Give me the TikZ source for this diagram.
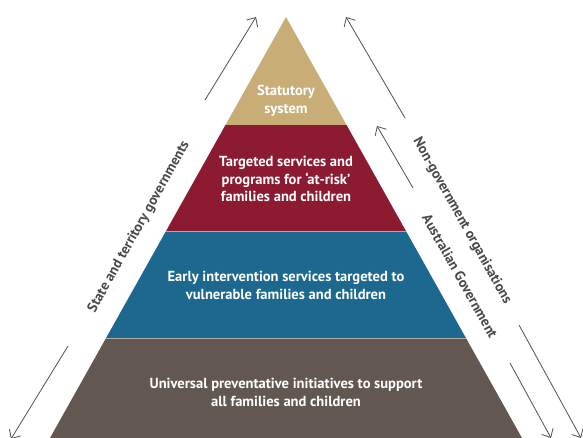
\documentclass[tikz,border=0pt]{standalone}
\usepackage{fontspec}
\setmainfont{PT Sans}
\usetikzlibrary{arrows.meta}

\definecolor{tierTan}{RGB}{200,174,118}
\definecolor{tierRed}{RGB}{140,27,50}
\definecolor{tierBlue}{RGB}{28,104,142}
\definecolor{tierBrown}{RGB}{99,87,81}
\definecolor{labelGray}{RGB}{72,72,72}
\definecolor{arrowGray}{RGB}{80,80,80}

\begin{document}
\begin{tikzpicture}[x=1bp,y=-1bp]

% --- Global TikZ Styles ---
\tikzset{
    layertext/.style={
        text=white,
        align=center,
        font=\bfseries\fontsize{14.6}{17.6}\selectfont
    },
    sidelabel/.style={
        text=labelGray,
        inner sep=0pt,
        font=\bfseries\fontsize{14.2}{16}\selectfont
    },
    flowarrow/.style={
        draw=arrowGray,
        line width=0.8bp,
        -{Straight Barb[length=7bp,width=13bp]}
    },
    separator/.style={
        draw=white,
        opacity=0.5,
        line width=0.6bp
    }
}

\useasboundingbox (0,0) rectangle (583,438);

% ==================================================
% --- Pyramid tiers ---
% ==================================================

\begin{scope}
    \clip (286,17) -- (522,438) -- (50,438) -- cycle;

    % Tier fills
    \fill[tierTan]   (0,0)   rectangle (583,125);
    \fill[tierRed]   (0,125) rectangle (583,231);
    \fill[tierBlue]  (0,231) rectangle (583,338);
    \fill[tierBrown] (0,338) rectangle (583,438);

    % Thin tier borders
    \draw[separator] (0,231) -- (583,231);
    \draw[separator] (0,338) -- (583,338);
\end{scope}

% Tier texts
\node[layertext] (statutory) at (286,101)
    {Statutory\\system};
\node[layertext] (targeted) at (286,179)
    {Targeted services and\\programs for ‘at-risk’\\families and children};
\node[layertext] (early) at (286,285.5)
    {Early intervention services targeted to\\vulnerable families and children};
\node[layertext] (universal) at (286,392.5)
    {Universal preventative initiatives to support\\all families and children};

% ==================================================
% --- Side labels ---
% ==================================================

\node[sidelabel, rotate=60.7] (stategov) at (139,227)
    {State and territory governments};
\node[sidelabel, rotate=-60.7] (ngo) at (462,221)
    {Non-government organisations};
\node[sidelabel, rotate=-60.7] (ausgov) at (460,276)
    {Australian Government};

% ==================================================
% --- Arrows ---
% ==================================================

% Left side
\coordinate (stateUpTail)   at (205,100);
\coordinate (stateUpTip)    at (256,17);
\coordinate (stateDownTail) at (68,346);
\coordinate (stateDownTip)  at (11,439);

\draw[flowarrow] (stateUpTail) -- (stateUpTip);
\draw[flowarrow] (stateDownTail) -- (stateDownTip);

% Right side
\coordinate (ngoUpTail)     at (405,118);
\coordinate (ngoUpTip)      at (346,17);
\coordinate (ausUpTail)     at (413,188);
\coordinate (ausUpTip)      at (377,126);
\coordinate (ngoDownTail)   at (519,325);
\coordinate (ngoDownTip)    at (581,438);
\coordinate (ausDownTail)   at (510,363);
\coordinate (ausDownTip)    at (551,438);

\draw[flowarrow] (ngoUpTail) -- (ngoUpTip);
\draw[flowarrow] (ausUpTail) -- (ausUpTip);
\draw[flowarrow] (ngoDownTail) -- (ngoDownTip);
\draw[flowarrow] (ausDownTail) -- (ausDownTip);

\end{tikzpicture}
\end{document}
